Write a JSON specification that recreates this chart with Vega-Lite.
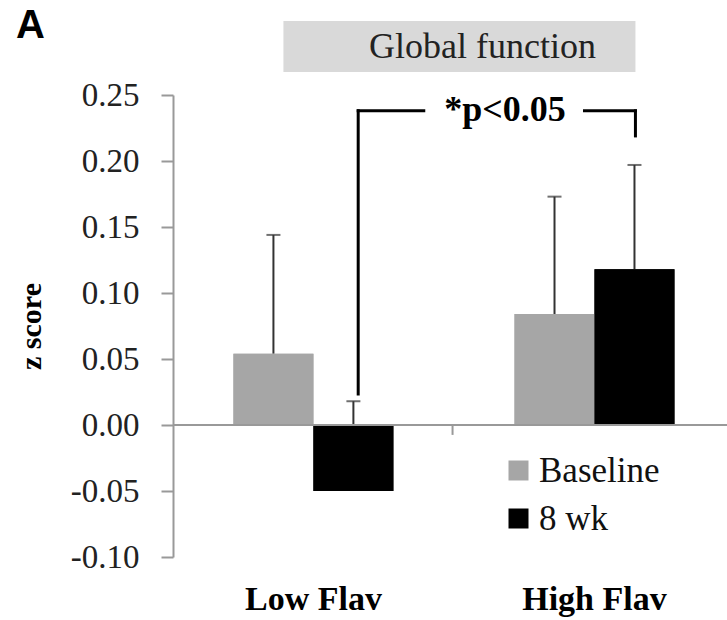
{
  "$schema": "https://vega.github.io/schema/vega-lite/v6.json",
  "autosize": {"type": "none"},
  "width": 554,
  "height": 462,
  "padding": {"left": 173, "top": 95, "right": 0, "bottom": 63},
  "background": "white",
  "config": {"view": {"stroke": null}},
  "datasets": {
    "bars": [
      {"group": "Low Flav", "time": "Baseline", "z": 0.054, "upper": 0.144},
      {"group": "Low Flav", "time": "8 wk", "z": -0.05, "upper": 0.018},
      {"group": "High Flav", "time": "Baseline", "z": 0.084, "upper": 0.173},
      {"group": "High Flav", "time": "8 wk", "z": 0.118, "upper": 0.197}
    ]
  },
  "layer": [
    {
      "data": {"name": "bars"},
      "mark": {"type": "bar"},
      "encoding": {
        "x": {
          "field": "group", "type": "nominal",
          "scale": {"domain": ["Low Flav", "High Flav"], "paddingInner": 0.431, "paddingOuter": 0.201, "align": 0.535},
          "axis": {
            "title": null, "domain": false, "ticks": false, "labelAngle": 0, "bandPosition": 0.5,
            "labelFont": "Liberation Serif", "labelFontSize": 34, "labelFontWeight": "bold",
            "labelColor": "#000", "labelPadding": 25
          }
        },
        "xOffset": {"field": "time", "type": "nominal", "scale": {"domain": ["Baseline", "8 wk"], "paddingInner": 0, "paddingOuter": 0}},
        "y": {
          "field": "z", "type": "quantitative",
          "scale": {"domain": [-0.1, 0.25], "nice": false, "zero": false},
          "axis": {
            "title": "z score", "titleFont": "Liberation Serif", "titleFontSize": 30, "titleFontWeight": "bold",
            "titleColor": "#000", "titlePadding": 24,
            "values": [-0.1, -0.05, 0, 0.05, 0.1, 0.15, 0.2, 0.25], "format": ".2f",
            "labelExpr": "replace(datum.label, '\u2212', '-')",
            "grid": false, "domainColor": "#999", "domainWidth": 2, "tickColor": "#999", "tickWidth": 2, "tickSize": 12,
            "labelFont": "Liberation Serif", "labelFontSize": 33, "labelColor": "#222", "labelPadding": 22
          }
        },
        "color": {
          "field": "time", "type": "nominal",
          "scale": {"domain": ["Baseline", "8 wk"], "range": ["#a6a6a6", "#000000"]},
          "legend": {
            "title": null, "orient": "none", "legendX": 328, "legendY": 358,
            "symbolType": "square", "symbolSize": 400, "symbolStrokeWidth": 0,
            "labelFont": "Liberation Serif", "labelFontSize": 35, "labelColor": "#111",
            "labelOffset": 3, "rowPadding": 12
          }
        }
      }
    },
    {
      "data": {"values": [{"group": "Low Flav", "group2": "High Flav", "lo": 0.2674, "hi": 0.306}]},
      "mark": {"type": "rect", "color": "#d9d9d9"},
      "encoding": {
        "x": {"field": "group", "type": "nominal", "bandPosition": 0.3125},
        "x2": {"field": "group2", "bandPosition": 0.756},
        "y": {"field": "lo", "type": "quantitative"},
        "y2": {"field": "hi"}
      }
    },
    {
      "data": {"values": [{"group": "High Flav", "y": 0.286, "label": "Global function"}]},
      "mark": {"type": "text", "font": "Liberation Serif", "fontSize": 36, "color": "#222", "align": "center", "baseline": "middle"},
      "encoding": {
        "x": {"field": "group", "type": "nominal", "bandPosition": -0.2},
        "y": {"field": "y", "type": "quantitative"},
        "text": {"field": "label"}
      }
    },
    {
      "data": {"values": [{"group": "Low Flav", "y": 0.302, "label": "A"}]},
      "mark": {"type": "text", "font": "Liberation Sans", "fontWeight": "bold", "fontSize": 40, "color": "#000", "align": "left", "baseline": "middle"},
      "encoding": {
        "x": {"field": "group", "type": "nominal", "bandPosition": -1.36},
        "y": {"field": "y", "type": "quantitative"},
        "text": {"field": "label"}
      }
    },
    {
      "data": {"name": "bars"},
      "mark": {"type": "rule", "color": "#333", "strokeWidth": 2},
      "encoding": {
        "x": {"field": "group", "type": "nominal"},
        "xOffset": {"field": "time", "type": "nominal"},
        "y": {"field": "z", "type": "quantitative"},
        "y2": {"field": "upper"}
      }
    },
    {
      "data": {"name": "bars"},
      "mark": {"type": "tick", "color": "#333", "thickness": 2, "size": 14, "orient": "horizontal"},
      "encoding": {
        "x": {"field": "group", "type": "nominal"},
        "xOffset": {"field": "time", "type": "nominal"},
        "y": {"field": "upper", "type": "quantitative"}
      }
    },
    {
      "data": {"name": "bars"},
      "mark": {"type": "bar"},
      "encoding": {
        "x": {"field": "group", "type": "nominal"},
        "xOffset": {"field": "time", "type": "nominal"},
        "y": {"field": "z", "type": "quantitative"},
        "color": {"field": "time", "type": "nominal"}
      }
    },
    {
      "data": {"values": [{"y": 0}]},
      "mark": {"type": "rule", "color": "#999", "strokeWidth": 2},
      "encoding": {"y": {"field": "y", "type": "quantitative"}}
    },
    {
      "data": {"values": [{"group": "High Flav", "y": 0, "y2": -0.0075}]},
      "mark": {"type": "rule", "color": "#999", "strokeWidth": 2},
      "encoding": {
        "x": {"field": "group", "type": "nominal", "bandPosition": -0.3875},
        "y": {"field": "y", "type": "quantitative"},
        "y2": {"field": "y2"}
      }
    },
    {
      "data": {"values": [{"group": "Low Flav", "y": 0.0235, "y2": 0.238}]},
      "mark": {"type": "rule", "color": "#000", "strokeWidth": 3, "strokeCap": "square"},
      "encoding": {
        "x": {"field": "group", "type": "nominal", "bandPosition": 0.78},
        "y": {"field": "y", "type": "quantitative"},
        "y2": {"field": "y2"}
      }
    },
    {
      "data": {"values": [{"group": "High Flav", "y": 0.219, "y2": 0.238}]},
      "mark": {"type": "rule", "color": "#000", "strokeWidth": 3, "strokeCap": "square"},
      "encoding": {
        "x": {"field": "group", "type": "nominal", "bandPosition": 0.756},
        "y": {"field": "y", "type": "quantitative"},
        "y2": {"field": "y2"}
      }
    },
    {
      "data": {"values": [{"group": "Low Flav", "y": 0.238}]},
      "mark": {"type": "rule", "color": "#000", "strokeWidth": 3, "strokeCap": "square"},
      "encoding": {
        "x": {"field": "group", "type": "nominal", "bandPosition": 0.78},
        "x2": {"field": "group", "bandPosition": 1.19},
        "y": {"field": "y", "type": "quantitative"}
      }
    },
    {
      "data": {"values": [{"group": "High Flav", "y": 0.238}]},
      "mark": {"type": "rule", "color": "#000", "strokeWidth": 3, "strokeCap": "square"},
      "encoding": {
        "x": {"field": "group", "type": "nominal", "bandPosition": 0.4375},
        "x2": {"field": "group", "bandPosition": 0.756},
        "y": {"field": "y", "type": "quantitative"}
      }
    },
    {
      "data": {"values": [{"group": "High Flav", "y": 0.239, "label": "*p<0.05"}]},
      "mark": {"type": "text", "font": "Liberation Serif", "fontWeight": "bold", "fontSize": 36, "color": "#000", "align": "center", "baseline": "middle"},
      "encoding": {
        "x": {"field": "group", "type": "nominal", "bandPosition": -0.06},
        "y": {"field": "y", "type": "quantitative"},
        "text": {"field": "label"}
      }
    }
  ]
}
